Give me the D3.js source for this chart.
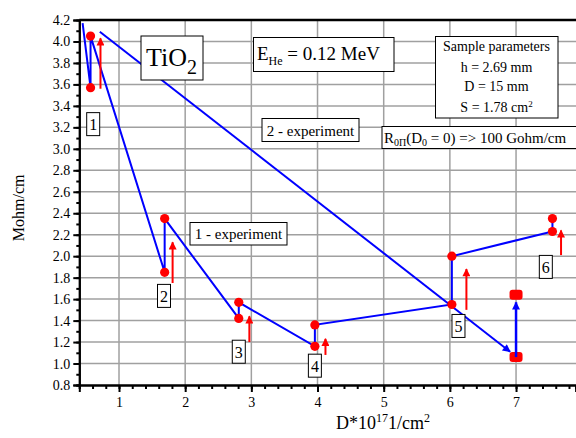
<!DOCTYPE html>
<html>
  <head>
    <meta charset="utf-8" />
    <script src="https://d3js.org/d3.v7.min.js"></script>
    <style>
      body { margin: 0; background: #fff; }
      text { font-family: "Liberation Serif", "DejaVu Serif", serif; fill: #000; }
    </style>
  </head>
  <body>
    <div id="master"></div>
    <script type="text/javascript">
var width = 576, height = 438;

// line 1 - experiment (blue polyline through the measured points)
var line1X = [0.45, 0.57, 0.57, 1.69, 1.69, 2.81, 2.81, 3.96, 3.96, 6.03, 6.03, 7.55, 7.55];
var line1Y = [4.17, 3.57, 4.05, 1.85, 2.35, 1.42, 1.57, 1.16, 1.36, 1.55, 2.00, 2.23, 2.33];
// red measured points
var pointX = [0.57, 0.57, 1.69, 1.69, 2.81, 2.81, 3.96, 3.96, 6.03, 6.03, 7.55, 7.55];
var pointY = [4.05, 3.57, 2.35, 1.85, 1.57, 1.42, 1.36, 1.16, 2.00, 1.55, 2.35, 2.23];
// line 2 - experiment
var line2X = [0.71, 6.91];
var line2Y = [4.09, 1.11];
// point at D = 7
var squareX = [7.0, 7.0];
var squareY = [1.64, 1.06];
var arrow7Y = [1.06, 1.57];
// red arrows next to each group
var redArrowX = [0.72, 1.81, 2.97, 4.12, 6.25, 7.68];
var redArrowFrom = [3.56, 1.75, 1.20, 1.08, 1.50, 2.01];
var redArrowTo = [4.03, 2.13, 1.44, 1.23, 1.88, 2.24];
// group numbers
var groupLabel = ["1", "2", "3", "4", "5", "6"];
var groupX = [0.61, 1.68, 2.81, 3.96, 6.13, 7.45];
var groupY = [3.23, 1.63, 1.11, 0.98, 1.35, 1.90];
// ticks
var xTicks = [1, 2, 3, 4, 5, 6, 7];
var yTicks = [0.8, 1.0, 1.2, 1.4, 1.6, 1.8, 2.0, 2.2, 2.4, 2.6, 2.8, 3.0, 3.2, 3.4, 3.6, 3.8, 4.0, 4.2];

var x = d3.scaleLinear().domain([0.4, 7.9]).range([79.3, 575.6]);
var y = d3.scaleLinear().domain([0.8, 4.2]).range([385, 20]);

var svg = d3.select("#master").append("svg")
  .attr("width", width)
  .attr("height", height);

var defs = svg.append("defs");
function marker(id, color) {
  defs.append("marker")
    .attr("id", id)
    .attr("viewBox", "0 0 10 10")
    .attr("refX", 9).attr("refY", 5)
    .attr("markerUnits", "userSpaceOnUse")
    .attr("markerWidth", 11).attr("markerHeight", 8)
    .attr("orient", "auto")
    .append("path")
      .attr("d", "M0,0 L10,5 L0,10 z")
      .attr("fill", color);
}
marker("redhead", "#ff0000");
marker("bluehead", "#0000ff");

// grid
var grid = svg.append("g").attr("stroke", "#a0a0a0").attr("stroke-width", 1.5);
grid.selectAll(".gx").data(xTicks).enter().append("line")
  .attr("x1", d => x(d)).attr("x2", d => x(d))
  .attr("y1", y(4.2)).attr("y2", y(0.8));
grid.selectAll(".gy").data(yTicks.filter(d => d > 0.85 && d < 4.15)).enter().append("line")
  .attr("x1", x(0.4)).attr("x2", width)
  .attr("y1", d => y(d)).attr("y2", d => y(d));

// axes
var yMinor = d3.range(8, 42).map(d => d / 10);
var xMinor = d3.range(2, 40).map(d => d / 5).filter(d => d >= 0.4);

var yAxis = svg.append("g")
  .attr("transform", "translate(" + x(0.4) + ",0)")
  .call(d3.axisLeft(y).tickValues(yMinor).tickSize(3).tickFormat(""));
yAxis.append("g").call(d3.axisLeft(y).tickValues(yTicks).tickSize(6).tickPadding(3).tickFormat(d3.format(".1f")));
yAxis.selectAll("g").attr("font-family", "Liberation Serif").attr("font-size", 14);
yAxis.selectAll("path").attr("stroke-width", 2);
yAxis.selectAll("line").attr("stroke-width", 2);

var xAxis = svg.append("g")
  .attr("transform", "translate(0," + y(0.8) + ")")
  .call(d3.axisBottom(x).tickValues(xMinor).tickSize(4).tickFormat(""));
xAxis.append("g").call(d3.axisBottom(x).tickValues(xTicks).tickSize(7).tickPadding(5).tickFormat(d3.format("d")));
xAxis.selectAll("g").attr("font-family", "Liberation Serif").attr("font-size", 14);
xAxis.selectAll("path").attr("stroke-width", 2);
xAxis.selectAll("line").attr("stroke-width", 2);

// top border
svg.append("line")
  .attr("x1", x(0.4)).attr("x2", width)
  .attr("y1", y(4.2)).attr("y2", y(4.2))
  .attr("stroke", "#000").attr("stroke-width", 2.5);

// axis titles
svg.append("text")
  .attr("transform", "translate(24," + y(2.45) + ") rotate(-90)")
  .attr("text-anchor", "middle")
  .style("font-size", "16px")
  .text("Mohm/cm");

var xt = svg.append("text")
  .attr("x", 383).attr("y", 429)
  .attr("text-anchor", "middle")
  .style("font-size", "18px");
xt.append("tspan").text("D*10");
xt.append("tspan").attr("dy", -7).style("font-size", "12px").text("17");
xt.append("tspan").attr("dy", 7).text("1/cm");
xt.append("tspan").attr("dy", -7).style("font-size", "12px").text("2");

// line 2
svg.append("path")
  .datum(d3.zip(line2X, line2Y))
  .attr("d", d3.line().x(d => x(d[0])).y(d => y(d[1])))
  .attr("fill", "none").attr("stroke", "#0000ff").attr("stroke-width", 2)
  .attr("marker-end", "url(#bluehead)");

// line 1
svg.append("path")
  .datum(d3.zip(line1X, line1Y))
  .attr("d", d3.line().x(d => x(d[0])).y(d => y(d[1])))
  .attr("fill", "none").attr("stroke", "#0000ff").attr("stroke-width", 2)
  .attr("stroke-linejoin", "miter");

// red points
svg.selectAll(".pt").data(d3.zip(pointX, pointY)).enter().append("circle")
  .attr("cx", d => x(d[0])).attr("cy", d => y(d[1]))
  .attr("r", 4.6).attr("fill", "#ff0000");

// the D = 7 pair
svg.selectAll(".sq").data(d3.zip(squareX, squareY)).enter().append("rect")
  .attr("x", d => x(d[0]) - 6.5).attr("y", d => y(d[1]) - 5)
  .attr("width", 13).attr("height", 10).attr("rx", 3)
  .attr("fill", "#ff0000");

svg.append("line")
  .attr("x1", x(7)).attr("x2", x(7))
  .attr("y1", y(arrow7Y[0])).attr("y2", y(arrow7Y[1]))
  .attr("stroke", "#0000ff").attr("stroke-width", 2.5)
  .attr("marker-end", "url(#bluehead)");

// red arrows
svg.selectAll(".ra").data(redArrowX).enter().append("line")
  .attr("x1", d => x(d)).attr("x2", d => x(d))
  .attr("y1", (d, i) => y(redArrowFrom[i])).attr("y2", (d, i) => y(redArrowTo[i]))
  .attr("stroke", "#ff0000").attr("stroke-width", 2)
  .attr("marker-end", "url(#redhead)");

// group number boxes
var gl = svg.selectAll(".gl").data(groupLabel).enter().append("g")
  .attr("transform", (d, i) => "translate(" + x(groupX[i]) + "," + y(groupY[i]) + ")");
gl.append("rect")
  .attr("x", -6.5).attr("y", -11.5).attr("width", 13).attr("height", 23)
  .attr("fill", "#fff").attr("stroke", "#000").attr("stroke-width", 1);
gl.append("text")
  .attr("text-anchor", "middle").attr("y", 6)
  .style("font-size", "16px")
  .text(d => d);

// annotation boxes
function box(x0, y0, w, h) {
  svg.append("rect")
    .attr("x", x0).attr("y", y0).attr("width", w).attr("height", h)
    .attr("fill", "#fff").attr("stroke", "#000").attr("stroke-width", 1);
}

box(141, 36, 62, 44);
var ti = svg.append("text").attr("x", 146).attr("y", 66).style("font-size", "26px");
ti.append("tspan").text("TiO");
ti.append("tspan").attr("dy", 8).style("font-size", "20px").text("2");

box(253.5, 37.5, 140.5, 34);
var eh = svg.append("text").attr("x", 257).attr("y", 60).style("font-size", "19px");
eh.append("tspan").text("E");
eh.append("tspan").attr("dy", 5).style("font-size", "12px").text("He");
eh.append("tspan").attr("dy", -5).text(" = 0.12 MeV");

box(435.5, 36.5, 122.5, 81.5);
var sp = ["Sample parameters", "h = 2.69 mm", "D = 15 mm"];
var spY = [51, 72, 91];
svg.selectAll(".sp").data(sp).enter().append("text")
  .attr("x", 496.5).attr("y", (d, i) => spY[i])
  .attr("text-anchor", "middle")
  .style("font-size", "14px")
  .text(d => d);
var s3 = svg.append("text").attr("x", 496.5).attr("y", 112)
  .attr("text-anchor", "middle").style("font-size", "14px");
s3.append("tspan").text("S = 1.78 cm");
s3.append("tspan").attr("dy", -5).style("font-size", "9px").text("2");

box(262, 118.5, 97, 23);
svg.append("text").attr("x", 310.5).attr("y", 135.5)
  .attr("text-anchor", "middle").style("font-size", "15px")
  .text("2 - experiment");

box(382, 126.5, 200, 22);
var r0 = svg.append("text").attr("x", 384).attr("y", 143).style("font-size", "15px");
r0.append("tspan").text("R");
r0.append("tspan").attr("dy", 3).style("font-size", "10px").text("0П");
r0.append("tspan").attr("dy", -3).text("(D");
r0.append("tspan").attr("dy", 3).style("font-size", "10px").text("0");
r0.append("tspan").attr("dy", -3).text(" = 0) => 100 Gohm/cm");

box(190, 222.5, 97, 22.5);
svg.append("text").attr("x", 238.5).attr("y", 239)
  .attr("text-anchor", "middle").style("font-size", "15px")
  .text("1 - experiment");
    </script>
  </body>
</html>
